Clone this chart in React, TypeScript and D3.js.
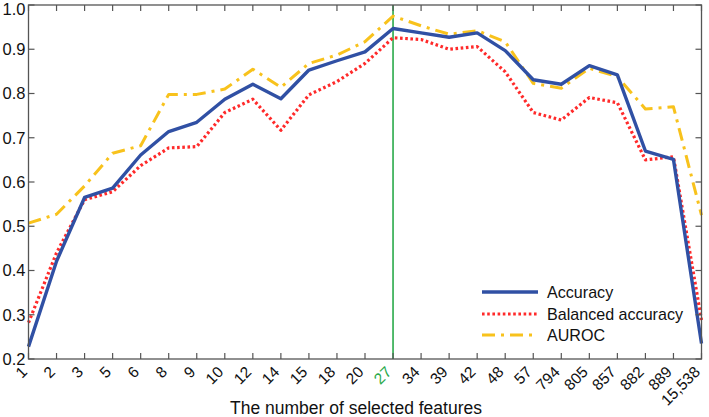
import React from "react";
import * as d3 from "d3";

const categories = ["1","2","3","5","6","8","9","10","12","14","15","18","20","27","34","39","42","48","57","794","805","857","882","889","15,538"];
const accuracy = [0.228,0.421,0.565,0.586,0.661,0.714,0.735,0.787,0.821,0.788,0.853,0.874,0.894,0.947,0.937,0.927,0.937,0.897,0.831,0.821,0.863,0.842,0.670,0.651,0.235];
const balanced = [0.282,0.44,0.56,0.578,0.637,0.677,0.680,0.757,0.787,0.717,0.797,0.827,0.868,0.926,0.922,0.900,0.906,0.849,0.757,0.740,0.791,0.779,0.650,0.657,0.288];
const auroc = [0.507,0.527,0.591,0.665,0.682,0.798,0.798,0.81,0.855,0.814,0.868,0.887,0.917,0.975,0.953,0.934,0.942,0.917,0.823,0.812,0.857,0.838,0.765,0.770,0.525];
const yTicks = [0.2,0.3,0.4,0.5,0.6,0.7,0.8,0.9,1.0];
const selectedCategory = "27";
const seriesNames = ["Accuracy","Balanced accuracy","AUROC"];

const W = 709, H = 417;
const L = 28.5, R = 701.5, T = 5, B = 359;

export default function App() {
  const x = d3.scalePoint<string>().domain(categories).range([L, R]);
  const y = d3.scaleLinear().domain([0.2, 1.0]).range([B, T]);
  const line = d3.line<number>().x((_, i) => x(categories[i])!).y(d => y(d));
  const axisColor = "#555";
  const font = "Liberation Sans, Arial, sans-serif";
  const series = [
    { name: seriesNames[0], data: accuracy, color: "#3050a4", dash: undefined, width: 3.4 },
    { name: seriesNames[1], data: balanced, color: "#ff2a2a", dash: "2.6 2.6", width: 3.2 },
    { name: seriesNames[2], data: auroc, color: "#f8c21c", dash: "13 6 3 6", width: 3 },
  ];
  const legendX1 = 482, legendX2 = 538, legendTextX = 547;
  const legendY = [292, 314, 335];
  return (
    <svg width={W} height={H} style={{ position: "absolute", left: 0, top: 0, background: "#fff" }} fontFamily={font}>
      <line x1={x(selectedCategory)} x2={x(selectedCategory)} y1={T} y2={B} stroke="#2aaa4a" strokeWidth={1.6} />
      {[series[2], series[1], series[0]].map(s => (
        <path key={s.name} d={line(s.data)!} fill="none" stroke={s.color} strokeWidth={s.width}
          strokeDasharray={s.dash} strokeLinejoin="round" />
      ))}
      <rect x={L} y={T} width={R - L} height={B - T} fill="none" stroke={axisColor} strokeWidth={1.3} />
      {categories.map(c => (
        <g key={c}>
          <line x1={x(c)} x2={x(c)} y1={B} y2={B - 6} stroke={axisColor} strokeWidth={1.2} />
          <line x1={x(c)} x2={x(c)} y1={T} y2={T + 6} stroke={axisColor} strokeWidth={1.2} />
          <text transform={`translate(${x(c)! - 0.5},${373}) rotate(-45)`} textAnchor="end"
            fontSize={15.5} fill={c === selectedCategory ? "#2aaa4a" : "#111"}>{c}</text>
        </g>
      ))}
      {yTicks.map(t => (
        <g key={t}>
          <line x1={L} x2={L + 6} y1={y(t)} y2={y(t)} stroke={axisColor} strokeWidth={1.2} />
          <line x1={R} x2={R - 6} y1={y(t)} y2={y(t)} stroke={axisColor} strokeWidth={1.2} />
          <text x={L - 3} y={Math.max(y(t), 9)} dy="0.36em" textAnchor="end" fontSize={16.5} fill="#111">{t.toFixed(1)}</text>
        </g>
      ))}
      <text x={356} y={414} textAnchor="middle" fontSize={17.5} fill="#111">The number of selected features</text>
      {series.map((s, i) => (
        <g key={s.name}>
          <line x1={legendX1} x2={legendX2} y1={legendY[i]} y2={legendY[i]} stroke={s.color} strokeWidth={s.width} strokeDasharray={s.dash} />
          <text x={legendTextX} y={legendY[i]} dy="0.36em" fontSize={16.1} fill="#111">{s.name}</text>
        </g>
      ))}
    </svg>
  );
}
